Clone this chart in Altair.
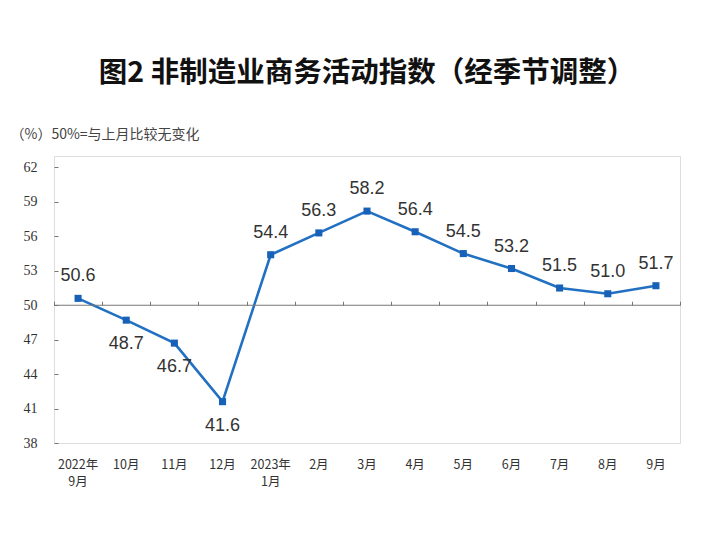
import altair as alt
import pandas as pd

months = ["2022年\n9月", "10月", "11月", "12月", "2023年\n1月", "2月", "3月",
          "4月", "5月", "6月", "7月", "8月", "9月"]
values = [50.6, 48.7, 46.7, 41.6, 54.4, 56.3, 58.2, 56.4, 54.5, 53.2, 51.5, 51.0, 51.7]
y_ticks = [38, 41, 44, 47, 50, 53, 56, 59, 62]
baseline_value = [50]

title_text = "图2  非制造业商务活动指数（经季节调整）"
unit_text = "（%）50%=与上月比较无变化"

df = pd.DataFrame({"month": months, "value": values})
df["label"] = df["value"].map(lambda v: f"{v:.1f}")

LINE = "#2270c2"
MARK = "#1762b8"
W, H = 626, 287

x_scale = alt.Scale(type="band", paddingInner=0, paddingOuter=0)
y_scale = alt.Scale(domain=[38, 63], nice=False, zero=False)

y_axis = alt.Axis(values=y_ticks, grid=False, domain=False, tickSize=4, offset=-4,
                  tickColor="#777777", tickWidth=1,
                  labelFont="Liberation Serif", labelFontSize=14, labelColor="#333333",
                  labelPadding=17,
                  title=unit_text, titleAngle=0, titleAlign="left", titleBaseline="middle",
                  titleX=-48, titleY=-22, titleFont="Noto Sans CJK SC",
                  titleFontSize=14, titleFontWeight="normal", titleColor="#444444")

x_bottom = alt.X(
    "month:N", sort=months, scale=x_scale, bandPosition=0.5,
    axis=alt.Axis(orient="bottom", title=None, domain=False, ticks=False,
                  labelAngle=0, labelFont="Noto Sans CJK SC", labelFontSize=12.5,
                  labelColor="#333333", labelPadding=15, labelLineHeight=17,
                  labelExpr="split(datum.label, '\\n')"),
)
x_plain = alt.X("month:N", sort=months, scale=x_scale, bandPosition=0.5, axis=None)
y_enc = alt.Y("value:Q", scale=y_scale, axis=y_axis)

base = alt.Chart(df)

line = base.mark_line(color=LINE, strokeWidth=2.6).encode(x=x_bottom, y=y_enc)
points = base.mark_square(color=MARK, size=50, opacity=1).encode(x=x_plain, y=y_enc)

text_common = dict(font="Liberation Sans", fontSize=18, color="#333333")
labels_above = base.transform_filter("datum.value >= 50").mark_text(
    dy=-22, **text_common).encode(x=x_plain, y=y_enc, text="label:N")
labels_below = base.transform_filter("datum.value < 50").mark_text(
    dy=24, **text_common).encode(x=x_plain, y=y_enc, text="label:N")

rule50 = alt.Chart(pd.DataFrame({"value": baseline_value})).mark_rule(
    color="#777777", strokeWidth=1.2).encode(y=y_enc)

# ticks on the 50% line at month boundaries (top axis moved down onto the 50 line)
tick_offset = -H * (63 - 50) / 25
ticks50 = base.mark_point(opacity=0).encode(
    x=alt.X("month:N", sort=months, scale=x_scale,
            axis=alt.Axis(orient="top", title=None, labels=False, domain=False,
                          ticks=True, tickBand="extent", tickSize=4,
                          tickColor="#777777", tickWidth=1, offset=tick_offset)),
    y=y_enc)

chart = alt.layer(line, rule50, points, labels_above, labels_below, ticks50).resolve_axis(
    x="independent").properties(
    width=W, height=H,
    autosize="none",
    padding={"left": 46, "top": 148, "right": 16, "bottom": 86},
    title=alt.TitleParams(title_text, font="Noto Sans CJK SC", fontSize=28.5,
                          fontWeight="bold", color="#111111", anchor="middle",
                          frame="group", baseline="middle", offset=26),
).configure_view(stroke="#808080", strokeWidth=1.3).configure(background="white")

chart.save("out.html", embed_options={"renderer": "svg", "actions": False})
